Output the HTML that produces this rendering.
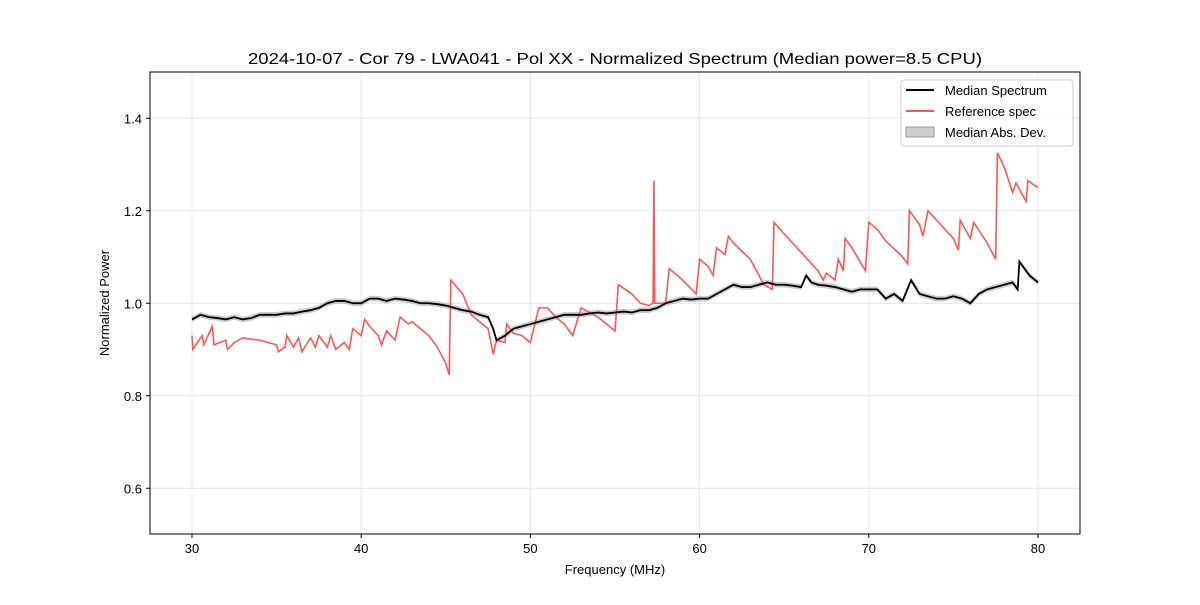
<!DOCTYPE html>
<html><head><meta charset="utf-8"><style>
body{margin:0;background:#fff;}
svg text{font-family:"Liberation Sans","DejaVu Sans",sans-serif;}
</style></head><body>
<svg id="chart" width="1200" height="600">
<rect width="1200" height="600" fill="#fff"/>
<text x="615" y="64" font-size="16" text-anchor="middle" textLength="734" lengthAdjust="spacingAndGlyphs">2024-10-07 - Cor 79 - LWA041 - Pol XX - Normalized Spectrum (Median power=8.5 CPU)</text>
<g id="grid"></g>
<g id="series"></g>
<rect x="150" y="72" width="930" height="462" fill="none" stroke="#000" stroke-width="1"/>
<g id="ticks"></g>
<text x="615" y="574" font-size="13" text-anchor="middle">Frequency (MHz)</text>
<text transform="translate(109,303) rotate(-90)" font-size="13" text-anchor="middle">Normalized Power</text>
<g>
<rect x="901" y="80" width="172" height="66" rx="3" fill="#fff" fill-opacity="0.85" stroke="#ccc"/>
<line x1="906" y1="90" x2="934" y2="90" stroke="#000" stroke-width="2"/>
<text x="945" y="95" font-size="13">Median Spectrum</text>
<line x1="906" y1="111" x2="934" y2="111" stroke="#ff5555" stroke-width="2"/>
<text x="945" y="116" font-size="13">Reference spec</text>
<rect x="906" y="127" width="28" height="10" fill="#bbb" fill-opacity="0.7" stroke="#999"/>
<text x="945" y="137" font-size="13">Median Abs. Dev.</text>
</g>
</svg>
<script>
const xTicks=[30,40,50,60,70,80];
const yTicks=[0.6,0.8,1.0,1.2,1.4];
const medFreq=[30,30.5,31,31.5,32,32.5,33,33.5,34,34.5,35,35.5,36,36.5,37,37.5,38,38.5,39,39.5,40,40.5,41,41.5,42,42.5,43,43.5,44,44.5,45,45.5,46,46.5,47,47.5,47.8,48,48.5,49,49.5,50,50.5,51,51.5,52,52.5,53,53.5,54,54.5,55,55.5,56,56.5,57,57.5,58,58.5,59,59.5,60,60.5,61,61.5,62,62.5,63,63.5,64,64.5,65,65.5,66,66.3,66.6,67,67.5,68,68.5,69,69.5,70,70.5,71,71.5,72,72.5,73,73.5,74,74.5,75,75.5,76,76.5,77,77.5,78,78.5,78.8,78.9,79.5,80];
const medVal=[0.965,0.975,0.97,0.968,0.965,0.97,0.965,0.968,0.975,0.975,0.975,0.978,0.978,0.982,0.985,0.99,1.0,1.005,1.005,1.0,1.0,1.01,1.01,1.005,1.01,1.008,1.005,1.0,1.0,0.998,0.995,0.99,0.985,0.982,0.975,0.97,0.945,0.92,0.93,0.945,0.95,0.955,0.96,0.965,0.97,0.975,0.975,0.975,0.978,0.98,0.978,0.98,0.982,0.98,0.985,0.985,0.99,1.0,1.005,1.01,1.008,1.01,1.01,1.02,1.03,1.04,1.035,1.035,1.04,1.045,1.04,1.04,1.038,1.035,1.06,1.045,1.04,1.038,1.035,1.03,1.025,1.03,1.03,1.03,1.01,1.02,1.005,1.05,1.02,1.015,1.01,1.01,1.015,1.01,1.0,1.02,1.03,1.035,1.04,1.045,1.03,1.09,1.06,1.045];
const madVal=[0.006,0.006,0.006,0.006,0.006,0.006,0.006,0.006,0.006,0.006,0.006,0.006,0.006,0.006,0.006,0.006,0.006,0.006,0.006,0.006,0.006,0.006,0.006,0.006,0.006,0.006,0.006,0.006,0.006,0.006,0.006,0.006,0.006,0.006,0.006,0.006,0.006,0.006,0.006,0.006,0.006,0.006,0.006,0.006,0.006,0.006,0.006,0.006,0.006,0.006,0.006,0.006,0.006,0.006,0.006,0.006,0.006,0.006,0.006,0.006,0.006,0.006,0.006,0.006,0.006,0.006,0.006,0.006,0.006,0.006,0.006,0.006,0.006,0.006,0.006,0.006,0.006,0.006,0.006,0.006,0.006,0.006,0.006,0.006,0.006,0.006,0.006,0.006,0.006,0.006,0.006,0.006,0.006,0.006,0.006,0.006,0.006,0.006,0.006,0.006,0.006,0.006,0.006,0.006];
const refFreq=[30,30.05,30.6,30.7,31.2,31.3,32,32.1,32.5,33,34,35,35.1,35.5,35.6,36,36.3,36.5,37,37.3,37.5,38,38.2,38.5,39,39.3,39.5,40,40.2,40.5,41,41.2,41.5,42,42.3,42.8,43,44,44.5,45,45.2,45.3,46,46.5,47,47.5,47.8,48,48.5,48.6,49,49.5,50,50.5,51,51.5,52,52.5,53,54,55,55.2,56,56.5,57,57.25,57.3,57.35,58,58.2,59,59.8,60,60.5,60.8,61,61.5,61.7,62,63,63.8,64.3,64.4,65,66,67,67.3,67.5,68,68.2,68.5,68.6,69,69.8,70,70.5,71,72,72.3,72.4,73,73.2,73.5,74,75,75.3,75.4,76,76.2,77,77.5,77.6,78,78.5,78.7,79.3,79.4,80];
const refVal=[0.93,0.90,0.93,0.91,0.95,0.91,0.92,0.90,0.915,0.925,0.92,0.91,0.895,0.905,0.93,0.905,0.925,0.895,0.925,0.905,0.93,0.905,0.93,0.90,0.915,0.90,0.945,0.93,0.965,0.95,0.93,0.91,0.94,0.92,0.97,0.955,0.96,0.93,0.905,0.87,0.845,1.05,1.02,0.975,0.96,0.945,0.89,0.92,0.915,0.955,0.935,0.93,0.915,0.99,0.99,0.97,0.955,0.93,0.99,0.97,0.94,1.04,1.02,1.0,0.995,1.0,1.265,1.0,1.0,1.075,1.05,1.02,1.095,1.08,1.06,1.12,1.105,1.145,1.13,1.095,1.04,1.03,1.175,1.15,1.11,1.07,1.05,1.065,1.05,1.095,1.07,1.14,1.12,1.07,1.175,1.16,1.135,1.10,1.085,1.2,1.17,1.145,1.2,1.18,1.14,1.115,1.18,1.14,1.175,1.13,1.095,1.325,1.295,1.24,1.26,1.22,1.265,1.25];

const X=v=>192+(v-30)*16.92;
const Y=v=>534.5-(v-0.5)*462.5;
const NS='http://www.w3.org/2000/svg';
function mk(tag,attrs,parent){const e=document.createElementNS(NS,tag);for(const k in attrs)e.setAttribute(k,attrs[k]);parent.appendChild(e);return e;}
const grid=document.getElementById('grid'),ticks=document.getElementById('ticks'),series=document.getElementById('series');
xTicks.forEach(t=>{
  const g=mk('line',{x1:X(t),x2:X(t),y1:72,y2:534,stroke:'#e6e6e6','stroke-width':1},grid);
  
  
  mk('line',{x1:X(t),x2:X(t),y1:534,y2:538,stroke:'#000'},ticks);
  const tx=mk('text',{x:X(t),y:553,'font-size':13,'text-anchor':'middle'},ticks);
  tx.textContent=t;
  
  
});
yTicks.forEach(t=>{
  const g=mk('line',{x1:150,x2:1080,y1:Y(t),y2:Y(t),stroke:'#e6e6e6','stroke-width':1},grid);
  
  
  mk('line',{x1:146,x2:150,y1:Y(t),y2:Y(t),stroke:'#000'},ticks);
  const tx=mk('text',{x:142,y:Y(t)+5,'font-size':13,'text-anchor':'end'},ticks);
  tx.textContent=t.toFixed(1);
  
  
});
let up=medFreq.map((f,i)=>X(f)+','+Y(medVal[i]+madVal[i]));
let dn=medFreq.map((f,i)=>X(f)+','+Y(medVal[i]-madVal[i])).reverse();
const band=mk('polygon',{points:up.concat(dn).join(' '),fill:'#999','fill-opacity':0.5},series);


const ref=mk('polyline',{points:refFreq.map((f,i)=>X(f)+','+Y(refVal[i])).join(' '),fill:'none',stroke:'#ff5555','stroke-width':1.6},series);


const med=mk('polyline',{points:medFreq.map((f,i)=>X(f)+','+Y(medVal[i])).join(' '),fill:'none',stroke:'#000','stroke-width':1.8},series);


</script>
</body></html>
